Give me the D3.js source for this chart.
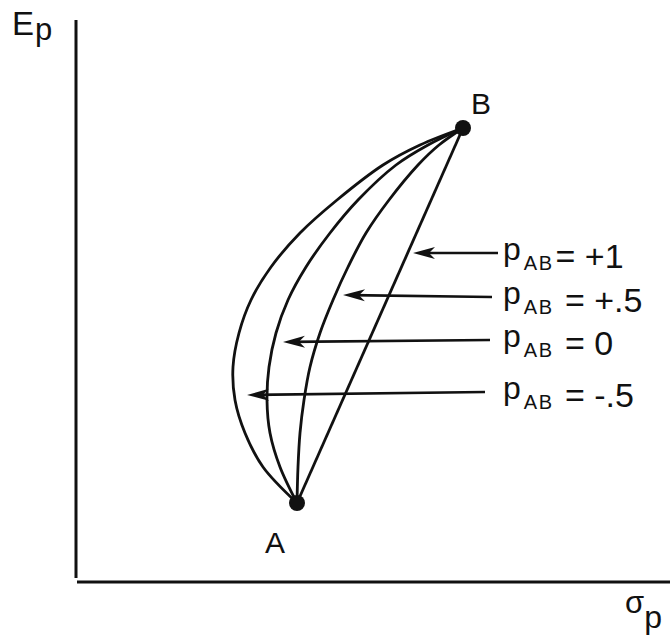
<!DOCTYPE html>
<html>
<head>
<meta charset="utf-8">
<script src="https://cdn.jsdelivr.net/npm/d3@7"></script>
<style>
  html, body { margin: 0; padding: 0; background: #fff; }
  svg { display: block; }
  text { font-family: "Liberation Sans", Arial, sans-serif; fill: #111; white-space: pre; }
</style>
</head>
<body>
<svg id="chart" width="670" height="640"></svg>
<script>
// Two-asset portfolio frontiers between A and B for several correlations.
const pointNames = ["A", "B"];
const pointSigma = [10.95, 19.25];
const pointReturn = [3.95, 22.7];

// Expected returns shared by the traced curves (from B down to A)
const curveReturns = [22.7, 21.85, 20.85, 19.1, 17.45, 15.75, 14.1, 12.45, 10.75, 9.1, 7.45, 5.75, 3.95];
// Standard deviations along each curve
const sigmaRhoHalf = [19.25, 18.05, 17.0, 15.55, 14.4, 13.5, 12.75, 12.1, 11.6, 11.3, 11.1, 11.0, 10.95];
const sigmaRhoZero = [19.25, 17.5, 15.9, 14.0, 12.6, 11.4, 10.5, 9.9, 9.55, 9.45, 9.6, 10.1, 10.95];
const sigmaRhoMinusHalf = [19.25, 17.1, 15.25, 12.95, 11.1, 9.65, 8.65, 8.05, 7.75, 7.85, 8.35, 9.25, 10.95];

// Correlation labels and their pointer arrows
const rhoLabels = ["= +1", " = +.5", " = 0", " = -.5"];
const arrowTipSigma = [16.75, 13.25, 10.25, 8.45];
const arrowTipReturn = [16.45, 14.35, 12.0, 9.35];
const arrowTailSigma = [21.0, 20.7, 20.6, 20.35];
const arrowTailReturn = [16.45, 14.25, 12.1, 9.5];

const svg = d3.select("#chart");
const x = d3.scaleLinear().domain([0, 29.5]).range([78, 668]);
const y = d3.scaleLinear().domain([0, 28.1]).range([582, 20]);

// Axes (plain lines, no ticks)
svg.append("line")
  .attr("x1", x(0) - 2).attr("x2", x(0) - 2)
  .attr("y1", y.range()[1]).attr("y2", y(0) - 4)
  .attr("stroke", "#111").attr("stroke-width", 3);
svg.append("line")
  .attr("x1", x(0) - 1).attr("x2", 670)
  .attr("y1", y(0)).attr("y2", y(0))
  .attr("stroke", "#111").attr("stroke-width", 3);

// Axis titles
const eLabel = svg.append("text").attr("x", 12).attr("y", 35).attr("font-size", 33);
eLabel.append("tspan").text("E");
eLabel.append("tspan").attr("dy", 5).attr("dx", 1).attr("font-size", 31).text("p");

const sLabel = svg.append("text").attr("x", 625).attr("y", 613).attr("font-size", 31);
sLabel.append("tspan").text("σ");
sLabel.append("tspan").attr("dy", 15).attr("font-size", 32).text("p");

// Frontier curves
const line = d3.line()
  .x(d => x(d[0]))
  .y(d => y(d[1]))
  .curve(d3.curveCatmullRom.alpha(0.5));

const curves = [sigmaRhoHalf, sigmaRhoZero, sigmaRhoMinusHalf].map(s => s.map((v, i) => [v, curveReturns[i]]));
svg.append("g")
  .selectAll("path")
  .data(curves)
  .join("path")
  .attr("d", line)
  .attr("fill", "none")
  .attr("stroke", "#111")
  .attr("stroke-width", 2.8);

// Perfect positive correlation: straight line A–B
svg.append("path")
  .attr("d", d3.line().x(d => x(d[0])).y(d => y(d[1]))(pointSigma.map((s, i) => [s, pointReturn[i]])))
  .attr("fill", "none")
  .attr("stroke", "#111")
  .attr("stroke-width", 2.8);

// Arrows with barbed heads
const arrows = svg.append("g");
rhoLabels.forEach((v, i) => {
  const x1 = x(arrowTailSigma[i]), y1 = y(arrowTailReturn[i]);
  const x2 = x(arrowTipSigma[i]), y2 = y(arrowTipReturn[i]);
  const ang = Math.atan2(y2 - y1, x2 - x1);
  const L = 22, W = 6, N = 16;
  const ux = Math.cos(ang), uy = Math.sin(ang);
  const px = -uy, py = ux;
  arrows.append("line")
    .attr("x1", x1).attr("y1", y1)
    .attr("x2", x2 - ux * 8).attr("y2", y2 - uy * 8)
    .attr("stroke", "#111").attr("stroke-width", 2.6);
  const head = [
    [x2, y2],
    [x2 - ux * L + px * W, y2 - uy * L + py * W],
    [x2 - ux * N, y2 - uy * N],
    [x2 - ux * L - px * W, y2 - uy * L - py * W]
  ];
  arrows.append("path")
    .attr("d", "M" + head.map(p => p.join(",")).join("L") + "Z")
    .attr("fill", "#111");

  const t = arrows.append("text")
    .attr("x", x(arrowTailSigma[0]) + 5)
    .attr("y", y1 + 15)
    .attr("font-size", 34);
  t.append("tspan").attr("dy", -8).attr("font-size", 32).text("p");
  t.append("tspan").attr("dy", 9.5).attr("dx", 3).attr("font-size", 20).attr("letter-spacing", 1.5).text("AB");
  t.append("tspan").attr("dy", -1.5).attr("dx", 2).text(v);
});

// Endpoints A and B
svg.append("g")
  .selectAll("circle")
  .data(pointNames)
  .join("circle")
  .attr("cx", (d, i) => x(pointSigma[i]))
  .attr("cy", (d, i) => y(pointReturn[i]))
  .attr("r", 8)
  .attr("fill", "#111");

svg.append("g")
  .selectAll("text")
  .data(pointNames)
  .join("text")
  .attr("x", (d, i) => x(pointSigma[i]) + (i === 0 ? -22 : 18))
  .attr("y", (d, i) => y(pointReturn[i]) + (i === 0 ? 50 : -14))
  .attr("text-anchor", "middle")
  .attr("font-size", 30)
  .text(d => d);
</script>
</body>
</html>
